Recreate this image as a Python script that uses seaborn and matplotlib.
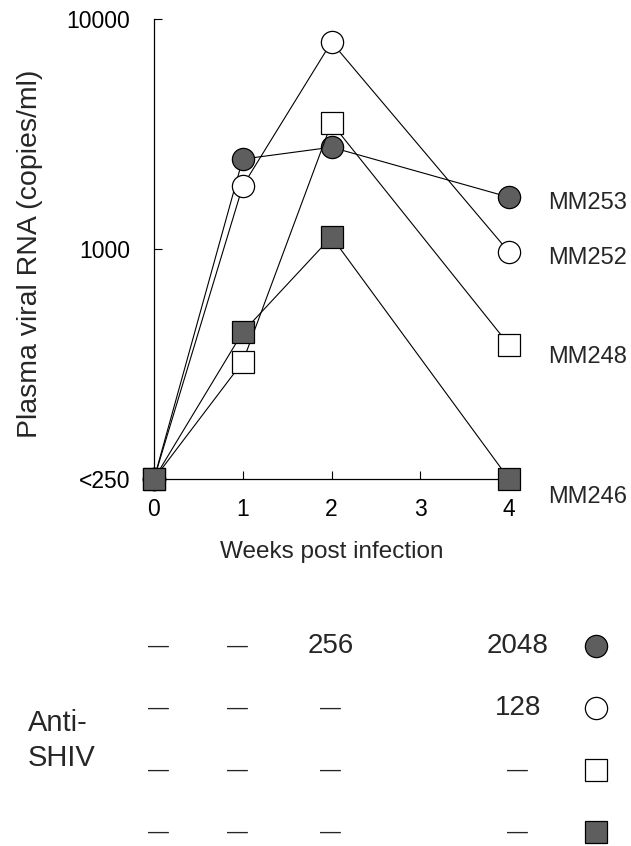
import matplotlib
matplotlib.use("Agg")
import matplotlib.pyplot as plt
import seaborn as sns
import pandas as pd

# ---------------- data ----------------
weeks = [0, 1, 2, 4]
animals = ["MM253", "MM252", "MM248", "MM246"]
# "<250" (below detection) is drawn at the axis floor, 100
mm253 = [100, 2460, 2770, 1680]
mm252 = [100, 1880, 7940, 970]
mm248 = [100, 323, 3530, 383]
mm246 = [100, 435, 1130, 100]
series = [mm253, mm252, mm248, mm246]

ytick_vals = [100, 1000, 10000]
ytick_labels = ["<250", "1000", "10000"]
xtick_vals = [0, 1, 2, 3, 4]

# anti-SHIV titers per animal at weeks 0, 1, 2, 4
titers = [
    ["—", "—", "256", "2048"],
    ["—", "—", "—", "128"],
    ["—", "—", "—", "—"],
    ["—", "—", "—", "—"],
]

# ---------------- style / layout ----------------
sns.set_style("ticks")
plt.rcParams["font.family"] = ["Liberation Sans", "DejaVu Sans"]

GRAY = "#5e5e5e"
marker_shape = ["o", "o", "s", "s"]
marker_face = [GRAY, "white", "white", GRAY]
label_dy = [-4, -4.5, -9, -13]        # points, right-hand label offsets
table_col_x = [0.05, 0.94, 1.99, 4.1]  # table column positions (week units)
table_mark_x = 4.98

W, H = 631, 846
fig = plt.figure(figsize=(W / 100, H / 100), dpi=100)
ax = fig.add_axes([154 / W, 1 - 479 / H, (509 - 154) / W, (479 - 19) / H])

rows = []
for name, vals in zip(animals, series):
    for w, v in zip(weeks, vals):
        rows.append({"animal": name, "week": w, "rna": v})
df = pd.DataFrame(rows)

for i, name in enumerate(animals):
    sub = df[df["animal"] == name]
    sns.lineplot(data=sub, x="week", y="rna", ax=ax, color="black",
                 linewidth=0.8, marker=marker_shape[i], markersize=16,
                 markerfacecolor=marker_face[i], markeredgecolor="black",
                 markeredgewidth=0.9, clip_on=False, legend=False,
                 zorder=3 + i)
    ax.annotate(name, xy=(weeks[-1], series[i][-1]), xytext=(28, label_dy[i]),
                textcoords="offset points", ha="left", va="center",
                fontsize=17, annotation_clip=False)

ax.set_yscale("log")
ax.set_ylim(100, 10000)
ax.set_xlim(0, 4)
ax.set_yticks(ytick_vals)
ax.set_yticklabels(ytick_labels)
ax.yaxis.set_minor_locator(matplotlib.ticker.NullLocator())
ax.set_xticks(xtick_vals)
ax.set_xticklabels([str(x) for x in xtick_vals])
ax.tick_params(axis="both", direction="in", length=6, width=0.8,
               labelsize=16.5, colors="black")
ax.tick_params(axis="y", pad=17)
ax.tick_params(axis="x", pad=14)
for s in ["top", "right"]:
    ax.spines[s].set_visible(False)
for s in ["left", "bottom"]:
    ax.spines[s].set_linewidth(0.9)
    ax.spines[s].set_color("black")
ax.set_xlabel("Weeks post infection", fontsize=17.5, labelpad=14)
ax.set_ylabel("")
fig.text(30 / W, 1 - 254 / H, "Plasma viral RNA (copies/ml)", rotation=90,
         ha="center", va="center", fontsize=20.5)

# ---------------- titer table ----------------
tax = fig.add_axes([154 / W, 0, (509 - 154) / W, (846 - 615) / H])
tax.set_xlim(0, 4)
tax.set_ylim(3.226, -0.5)
tax.axis("off")
for r, row in enumerate(titers):
    for c, txt in enumerate(row):
        tax.text(table_col_x[c], r, txt, ha="center", va="center",
                 fontsize=20 if txt != "—" else 15, clip_on=False)
    tax.plot([table_mark_x], [r], marker=marker_shape[r], markersize=16,
             markerfacecolor=marker_face[r], markeredgecolor="black",
             markeredgewidth=0.9, linestyle="none", clip_on=False)
tax.text(-1.42, 1.52, "Anti-\nSHIV", ha="left", va="center", fontsize=21,
         linespacing=1.3, clip_on=False)

fig.savefig("out.png", dpi=100)
